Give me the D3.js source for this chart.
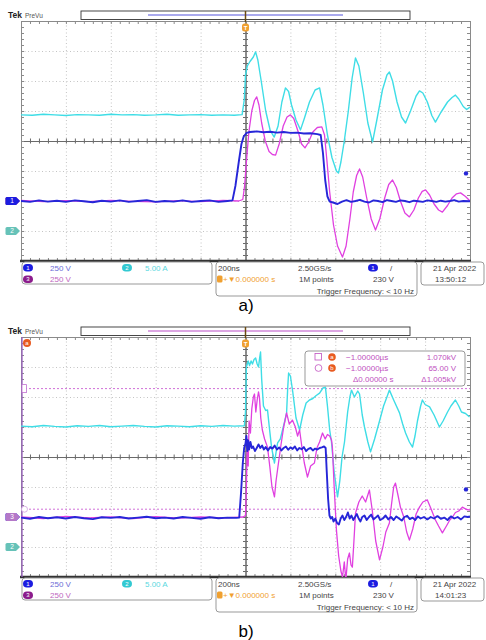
<!DOCTYPE html>
<html>
<head>
<meta charset="utf-8">
<script src="https://cdn.jsdelivr.net/npm/d3@7"></script>
<style>
  body { margin: 0; background: #fff; }
  svg { display: block; }
</style>
</head>
<body>
<div id="chart"></div>
<script>
// scope settings (200 ns/div, 10 x 8 divisions)
const timeDomain = [-1000, 1000];   // ns
const levelDomain = [-4, 4];        // divisions from screen centre
const timeTicks = d3.range(-1000, 1001, 200);
const levelTicks = d3.range(-4, 5, 1);
const timeMinor = d3.range(-1000, 1001, 40);
const levelMinor = d3.range(-4, 4.01, 0.2);

const channelNames = ["1", "2", "3"];
const channelScaleText = ["250 V", "5.00 A", "250 V"];
const groundDiv = [-2, -3, -2];      // ground markers, divisions
const voltsPerDiv = 250;
const triggerLevelV = 230;
const cursorTimeText = "\u22121.00000\u00b5s";
const cursorLevelsV = [1070, 65];    // panel b, channel 3

// waveforms: [time ns, level div]
const cyanA = [[-1000,0.87],[-950,0.86],[-900,0.89],[-850,0.87],[-800,0.85],[-750,0.88],[-700,0.87],[-650,0.86],[-600,0.89],[-550,0.87],[-500,0.88],[-450,0.86],[-400,0.87],[-350,0.89],[-300,0.86],[-250,0.87],[-200,0.88],[-150,0.86],[-100,0.87],[-50,0.86],[-15,0.88],
  [-5,1.4],[0,2.2],[8,2.5],[20,2.65],[35,2.8],[45,2.97],[55,2.7],[70,2.0],[90,1.0],[110,0.35],[128,0.13],[145,0.5],[162,1.3],[178,1.77],[192,1.65],[205,1.2],[225,0.7],[245,0.37],[262,0.75],[285,1.3],[310,1.7],[330,1.77],[345,1.2],[365,0.2],[385,-0.55],[405,-1.0],[414,-1.07],[425,-0.7],[440,0.0],[458,1.0],[475,2.1],[490,2.77],[505,2.5],[525,1.6],[545,0.6],[566,-0.03],[585,0.7],[610,1.7],[630,2.2],[641,2.3],[655,2.0],[675,1.3],[695,0.8],[713,0.6],[735,1.0],[760,1.5],[775,1.67],[790,1.6],[810,1.3],[830,0.85],[846,0.63],[870,0.95],[900,1.3],[920,1.45],[935,1.53],[950,1.4],[970,1.15],[985,1.05],[1000,1.13]];

const blueA = [[-1000,-2.0],[-960,-2.03],[-920,-1.98],[-880,-2.02],[-840,-1.99],[-800,-2.03],[-760,-1.98],[-720,-2.01],[-680,-2.04],[-640,-1.99],[-600,-2.02],[-560,-1.98],[-520,-2.03],[-480,-2.0],[-440,-1.97],[-400,-2.03],[-360,-2.0],[-320,-2.02],[-280,-1.98],[-240,-2.03],[-200,-2.0],[-160,-1.98],[-120,-2.03],[-80,-2.0],[-58,-1.98],
  [-45,-1.5],[-30,-0.7],[-18,-0.1],[-8,0.15],[5,0.27],[20,0.3],[50,0.32],[80,0.29],[110,0.31],[140,0.28],[170,0.3],[200,0.27],[230,0.28],[260,0.25],[290,0.26],[320,0.23],[335,0.2],[345,-0.4],[355,-1.3],[365,-1.85],[375,-2.02],[390,-2.05],[410,-2.1],[430,-2.02],[450,-1.97],[470,-2.03],[490,-2.0],[510,-1.96],[530,-2.02],[550,-2.05],[570,-1.98],[590,-2.0],[610,-2.04],[630,-1.97],[650,-2.0],[670,-2.03],[690,-1.98],[710,-2.0],[730,-2.04],[750,-1.99],[770,-2.01],[790,-2.03],[810,-1.98],[830,-2.0],[850,-2.03],[870,-1.99],[890,-2.02],[910,-2.0],[930,-1.97],[950,-2.02],[970,-2.0],[1000,-2.01]];

const magentaA = [[-1000,-1.98],[-900,-2.02],[-800,-1.99],[-700,-2.02],[-600,-1.98],[-500,-2.01],[-400,-2.03],[-300,-1.99],[-200,-2.02],[-100,-1.98],[-30,-2.0],[-12,-1.95],
  [-4,-1.5],[5,-0.6],[15,0.3],[28,1.0],[40,1.35],[50,1.47],[60,1.2],[72,0.6],[88,0.0],[105,-0.35],[120,-0.45],[134,-0.47],[150,-0.1],[168,0.5],[185,0.8],[200,0.87],[215,0.75],[235,0.3],[250,-0.1],[265,-0.23],[280,-0.05],[300,0.3],[320,0.45],[340,0.47],[352,0.2],[362,-0.6],[375,-1.7],[392,-2.8],[410,-3.5],[432,-3.87],[448,-3.5],[465,-2.6],[480,-1.7],[495,-1.15],[508,-0.93],[522,-1.2],[540,-1.9],[560,-2.6],[579,-2.97],[598,-2.6],[620,-1.9],[638,-1.45],[655,-1.3],[672,-1.55],[690,-2.0],[710,-2.4],[730,-2.53],[750,-2.3],[770,-1.9],[787,-1.68],[802,-1.63],[820,-1.8],[840,-2.1],[860,-2.3],[877,-2.37],[900,-2.15],[920,-1.9],[940,-1.76],[958,-1.73],[980,-1.85],[1000,-2.0]];

const cyanB = [[-1000,1.03],[-950,1.01],[-900,1.05],[-850,1.02],[-800,1.0],[-750,1.04],[-700,1.02],[-650,1.05],[-600,1.01],[-550,1.03],[-500,1.05],[-450,1.02],[-400,1.0],[-350,1.04],[-300,1.03],[-250,1.01],[-200,1.04],[-150,1.02],[-100,1.05],[-50,1.03],[-5,1.04],
  [0,1.5],[4,3.0],[12,3.2],[18,3.05],[25,3.2],[31,3.1],[38,3.25],[45,3.3],[52,3.1],[58,3.0],[63,3.3],[67,3.5],[72,2.6],[80,1.7],[90,1.55],[98,1.57],[106,1.0],[116,0.33],[129,-0.2],[137,0.2],[143,0.47],[155,0.6],[165,0.9],[175,1.2],[183,1.47],[188,2.3],[192,2.8],[200,2.7],[210,2.2],[225,1.3],[241,0.9],[255,1.4],[270,1.8],[285,1.9],[300,1.95],[315,2.05],[330,2.13],[345,2.3],[356,2.33],[365,1.7],[375,0.9],[383,0.5],[395,-0.5],[410,-1.33],[420,-0.8],[430,0.0],[441,0.5],[455,1.5],[465,2.0],[472,2.23],[485,2.0],[500,2.2],[508,2.1],[520,1.4],[530,1.0],[545,0.5],[557,0.17],[575,0.6],[597,1.2],[615,1.7],[630,2.0],[641,2.23],[660,1.9],[686,1.47],[700,1.1],[713,0.8],[730,0.5],[744,0.33],[755,0.7],[766,1.2],[780,1.7],[788,1.9],[800,1.75],[820,1.67],[840,1.4],[864,1.0],[880,1.2],[900,1.5],[915,1.7],[935,1.9],[950,1.7],[962,1.5],[980,1.45],[998,1.33]];

const blueB = [[-1000,-2.02],[-960,-2.06],[-920,-2.0],[-880,-2.04],[-840,-2.01],[-800,-2.05],[-760,-2.0],[-720,-2.04],[-680,-2.07],[-640,-2.01],[-600,-2.03],[-560,-2.0],[-520,-2.05],[-480,-2.02],[-440,-1.99],[-400,-2.04],[-360,-2.02],[-320,-2.05],[-280,-2.0],[-240,-2.03],[-200,-2.06],[-160,-2.01],[-120,-2.04],[-80,-2.02],[-40,-2.03],[-28,-2.02],
  [-20,-1.2],[-12,-0.2],[-6,0.3],[0,0.45],[4,0.7],[8,0.2],[12,0.55],[16,0.25],[22,0.5],[28,0.3],[34,0.35],[42,0.2],[50,0.3],[58,0.42],[66,0.3],[74,0.38],[82,0.25],[90,0.33],[100,0.22],[110,0.33],[120,0.28],[130,0.38],[140,0.25],[150,0.32],[160,0.22],[170,0.3],[180,0.35],[190,0.24],[200,0.32],[210,0.27],[220,0.35],[230,0.22],[240,0.3],[250,0.26],[260,0.33],[270,0.2],[280,0.27],[290,0.3],[300,0.22],[310,0.28],[320,0.25],[330,0.3],[340,0.32],[350,0.35],[357,0.3],
  [362,-0.5],[368,-1.4],[374,-1.95],[380,-2.05],[386,-2.0],[392,-2.15],[400,-2.05],[408,-2.2],[416,-2.25],[424,-2.05],[432,-1.95],[440,-2.1],[448,-2.0],[456,-1.85],[464,-2.05],[472,-1.95],[480,-2.1],[488,-2.0],[496,-1.9],[504,-2.05],[512,-2.15],[520,-2.0],[530,-1.95],[540,-2.1],[550,-2.0],[560,-1.92],[570,-2.08],[580,-2.02],[590,-1.95],[600,-2.1],[612,-2.05],[624,-1.95],[636,-2.08],[648,-2.0],[660,-2.1],[672,-1.98],[684,-2.05],[696,-2.12],[708,-2.0],[720,-1.96],[732,-2.07],[744,-2.02],[756,-2.1],[768,-1.98],[780,-2.05],[795,-2.0],[810,-2.08],[825,-2.0],[840,-2.05],[855,-1.97],[870,-2.06],[885,-2.02],[900,-2.1],[915,-1.98],[930,-2.05],[945,-2.0],[960,-2.08],[975,-1.98],[990,-2.0],[1000,-1.98]];

const magentaB = [[-1000,-2.0],[-900,-2.05],[-800,-1.98],[-700,-2.03],[-600,-2.0],[-500,-2.05],[-400,-1.99],[-300,-2.04],[-200,-2.0],[-100,-2.03],[-10,-2.0],[0,-1.95],
  [4,-1.0],[8,0.5],[12,-0.3],[16,1.2],[22,0.8],[28,1.6],[35,2.0],[40,2.1],[46,1.5],[52,1.9],[58,2.17],[62,2.0],[68,1.3],[75,0.9],[85,0.6],[98,0.33],[108,-0.3],[118,-1.0],[129,-1.33],[136,-0.8],[145,-0.3],[158,0.4],[170,1.0],[183,1.47],[195,1.1],[209,1.23],[222,1.0],[232,0.7],[241,0.9],[250,0.4],[262,-0.2],[276,-0.67],[290,-0.3],[307,-0.2],[318,0.3],[330,0.5],[343,0.8],[355,0.6],[365,0.75],[375,0.7],[383,0.57],[387,0.33],
  [395,-1.0],[405,-2.43],[415,-3.3],[425,-3.8],[432,-4.0],[440,-3.5],[447,-4.1],[455,-3.4],[463,-3.2],[470,-3.6],[476,-3.67],[483,-2.8],[490,-1.87],[505,-1.5],[520,-1.3],[535,-1.5],[552,-1.1],[565,-1.8],[580,-2.8],[597,-3.43],[612,-3.0],[625,-2.5],[641,-2.2],[650,-1.6],[660,-1.0],[668,-0.87],[680,-1.3],[690,-1.67],[705,-2.0],[718,-2.5],[730,-2.77],[745,-2.4],[760,-1.9],[775,-1.67],[790,-1.5],[810,-1.43],[825,-1.7],[846,-2.1],[860,-2.3],[877,-2.53],[895,-2.3],[910,-2.1],[922,-2.0],[935,-1.85],[950,-1.8],[966,-1.67],[985,-1.75],[1000,-1.77]];

const colors = { blue: "#2626d8", cyan: "#3fdde6", magenta: "#e040e0", orange: "#f0a030",
  badge1: "#1c1ce0", badge2: "#33c9d2", badge3: "#8c1c8c", text: "#444" };

const panels = [
  { top: 21, label: "a)", clock: "13:50:12", cyan: cyanA, magenta: magentaA, blue: blueA, rec: "#8c8ce8", cursors: false },
  { top: 337, label: "b)", clock: "14:01:23", cyan: cyanB, magenta: magentaB, blue: blueB, rec: "#d088d8", cursors: true }
];

const svg = d3.select("#chart").append("svg")
  .attr("width", 486).attr("height", 640)
  .style("font-family", "'Liberation Sans', Arial, sans-serif");

function fmtV(v) {
  return v >= 1000 ? (v / 1000).toFixed(3) + "kV" : v.toFixed(2) + " V";
}

function badge(g, cx, cy, color, label) {
  g.append("rect").attr("x", cx - 5).attr("y", cy - 3.8).attr("width", 10).attr("height", 7.6)
    .attr("rx", 3.8).attr("fill", color);
  g.append("text").attr("x", cx).attr("y", cy + 2.2).attr("text-anchor", "middle")
    .attr("font-size", 6).attr("fill", "#fff").text(label);
}

function txt(g, x, y, s, color, anchor) {
  return g.append("text").attr("x", x).attr("y", y).attr("font-size", 8)
    .attr("fill", color || colors.text).attr("text-anchor", anchor || "start").text(s);
}

function drawPanel(p, idx) {
  const top = p.top, bottom = top + 240, left = 21, right = 470;
  const x = d3.scaleLinear().domain(timeDomain).range([left, right]);
  const y = d3.scaleLinear().domain(levelDomain).range([bottom, top]);
  const g = svg.append("g");

  // header: Tek PreVu and record view
  g.append("text").attr("x", 8).attr("y", top - 3).attr("font-size", 8.5)
    .attr("font-weight", "bold").attr("fill", "#222").text("Tek");
  g.append("text").attr("x", 25).attr("y", top - 3).attr("font-size", 6.5)
    .attr("fill", "#555").text("PreVu");
  g.append("rect").attr("x", 81).attr("y", top - 10).attr("width", 329).attr("height", 8.5)
    .attr("fill", "#fff").attr("stroke", "#333").attr("stroke-width", 0.9);
  g.append("line").attr("x1", 148).attr("x2", 343).attr("y1", top - 6).attr("y2", top - 6)
    .attr("stroke", p.rec).attr("stroke-width", 1.3);

  // dotted graticule
  g.append("g").attr("transform", `translate(0,${bottom})`)
    .call(d3.axisBottom(x).tickValues(timeTicks).tickSize(-(bottom - top)).tickFormat(""))
    .call(a => a.select(".domain").remove())
    .selectAll("line").attr("stroke", "#c4c4c4").attr("stroke-dasharray", "1,2.5");
  g.append("g").attr("transform", `translate(${left},0)`)
    .call(d3.axisLeft(y).tickValues(levelTicks).tickSize(-(right - left)).tickFormat(""))
    .call(a => a.select(".domain").remove())
    .selectAll("line").attr("stroke", "#c4c4c4").attr("stroke-dasharray", "1,2.5");

  // centre cross with minor ticks on both sides
  const cross = g.append("g").attr("stroke", "#666");
  [d3.axisBottom, d3.axisTop].forEach(ax => {
    cross.append("g").attr("transform", `translate(0,${y(0)})`)
      .call(ax(x).tickValues(timeMinor).tickSize(2.5).tickSizeOuter(0).tickFormat(""));
  });
  [d3.axisLeft, d3.axisRight].forEach(ax => {
    cross.append("g").attr("transform", `translate(${x(0)},0)`)
      .call(ax(y).tickValues(levelMinor).tickSize(2.5).tickSizeOuter(0).tickFormat(""));
  });
  cross.selectAll("path, line").attr("stroke", "#6a6a6a");

  // frame with edge ticks
  const frame = g.append("g");
  frame.append("g").attr("transform", `translate(0,${top})`)
    .call(d3.axisBottom(x).tickValues(timeMinor).tickSize(3).tickSizeOuter(0).tickFormat(""));
  frame.append("g").attr("transform", `translate(${left},0)`)
    .call(d3.axisRight(y).tickValues(levelMinor).tickSize(3).tickSizeOuter(0).tickFormat(""));
  frame.append("g").attr("transform", `translate(${right},0)`)
    .call(d3.axisLeft(y).tickValues(levelMinor).tickSize(3).tickSizeOuter(0).tickFormat(""));
  frame.append("g").attr("transform", `translate(0,${bottom})`)
    .call(d3.axisTop(x).tickValues(timeMinor).tickSize(3).tickSizeOuter(0).tickFormat(""));
  frame.selectAll("path, line").attr("stroke", "#8a8a8a");
  frame.append("line").attr("x1", left - 1).attr("x2", right + 1).attr("y1", bottom).attr("y2", bottom)
    .attr("stroke", "#333").attr("stroke-width", 2.5);

  // cursors (panel b)
  if (p.cursors) {
    cursorLevelsV.forEach(v => {
      g.append("line").attr("x1", left).attr("x2", right)
        .attr("y1", y(groundDiv[2] + v / voltsPerDiv)).attr("y2", y(groundDiv[2] + v / voltsPerDiv))
        .attr("stroke", "#d070d8").attr("stroke-width", 1).attr("stroke-dasharray", "2,2");
    });
    g.append("line").attr("x1", x(-1000) + 1).attr("x2", x(-1000) + 1).attr("y1", top).attr("y2", bottom)
      .attr("stroke", "#9a60c0").attr("stroke-width", 1.3);
    g.append("rect").attr("x", left + 1).attr("y", y(groundDiv[2] + cursorLevelsV[0] / voltsPerDiv) - 4)
      .attr("width", 4.5).attr("height", 8).attr("fill", "#fff").attr("stroke", "#c070d0").attr("stroke-width", 0.8);
    g.append("circle").attr("cx", left + 3.5).attr("cy", y(groundDiv[2] + cursorLevelsV[1] / voltsPerDiv))
      .attr("r", 3).attr("fill", "#fff").attr("stroke", "#d0a0e0").attr("stroke-width", 0.8);
    g.append("circle").attr("cx", left + 6).attr("cy", top + 6).attr("r", 4).attr("fill", "#e85a20");
    g.append("text").attr("x", left + 6).attr("y", top + 8).attr("text-anchor", "middle")
      .attr("font-size", 6).attr("fill", "#fff").text("a");
  }

  // waveforms
  const clipId = "clip" + idx;
  g.append("clipPath").attr("id", clipId).append("rect")
    .attr("x", left).attr("y", top).attr("width", right - left).attr("height", bottom - top);
  const line = d3.line().x(d => x(d[0])).y(d => y(d[1]));
  const waves = g.append("g").attr("clip-path", `url(#${clipId})`).attr("fill", "none")
    .attr("stroke-linejoin", "round");
  waves.append("path").attr("d", line(p.cyan)).attr("stroke", colors.cyan).attr("stroke-width", 1.4);
  waves.append("path").attr("d", line(p.magenta)).attr("stroke", colors.magenta).attr("stroke-width", 1.3);
  waves.append("path").attr("d", line(p.blue)).attr("stroke", colors.blue).attr("stroke-width", 1.9);

  // cursor readout box
  if (p.cursors) {
    const rb = g.append("g");
    rb.append("rect").attr("x", 305).attr("y", top + 14).attr("width", 160).attr("height", 35)
      .attr("rx", 3).attr("fill", "#fff").attr("stroke", "#999").attr("stroke-width", 1);
    const c = "#c050c0";
    const r1 = top + 23, r2 = top + 34, r3 = top + 45;
    rb.append("rect").attr("x", 315).attr("y", r1 - 6.5).attr("width", 6.5).attr("height", 6.5)
      .attr("fill", "none").attr("stroke", c).attr("stroke-width", 0.8);
    rb.append("circle").attr("cx", 318.5).attr("cy", r2 - 3).attr("r", 3.4)
      .attr("fill", "none").attr("stroke", c).attr("stroke-width", 0.8);
    ["a", "b"].forEach((s, i) => {
      const yy = i === 0 ? r1 : r2;
      rb.append("circle").attr("cx", 332).attr("cy", yy - 3).attr("r", 3.8).attr("fill", "#e85a20");
      rb.append("text").attr("x", 332).attr("y", yy - 1).attr("text-anchor", "middle")
        .attr("font-size", 6).attr("fill", "#fff").text(s);
    });
    txt(rb, 346, r1, cursorTimeText, c);
    txt(rb, 346, r2, cursorTimeText, c);
    txt(rb, 456, r1, fmtV(cursorLevelsV[0]), c, "end");
    txt(rb, 456, r2, fmtV(cursorLevelsV[1]), c, "end");
    txt(rb, 353, r3, "\u03940.00000 s", c);
    txt(rb, 456, r3, "\u0394" + fmtV(cursorLevelsV[0] - cursorLevelsV[1]), c, "end");
  }

  // trigger marker at time 0
  g.append("line").attr("x1", x(0)).attr("x2", x(0)).attr("y1", top - 10).attr("y2", top + 1)
    .attr("stroke", "#6b4a10").attr("stroke-width", 1.5);
  g.append("rect").attr("x", x(0) - 3.5).attr("y", top + 2.5).attr("width", 7).attr("height", 8)
    .attr("rx", 2.5).attr("fill", colors.orange);
  g.append("text").attr("x", x(0)).attr("y", top + 9).attr("text-anchor", "middle")
    .attr("font-size", 6).attr("font-weight", "bold").attr("fill", "#fff").text("T");

  // trigger level indicator
  g.append("circle").attr("cx", right - 4).attr("cy", y(groundDiv[0] + triggerLevelV / voltsPerDiv))
    .attr("r", 2.2).attr("fill", colors.blue);

  // ground markers on the left
  const marker = (lvl, color, label) => {
    const cy = y(lvl);
    g.append("path")
      .attr("d", `M7,${cy - 4} h9 l4,4 l-4,4 h-9 q-1.5,0 -1.5,-1.5 v-5 q0,-1.5 1.5,-1.5 z`)
      .attr("fill", color);
    g.append("text").attr("x", 12).attr("y", cy + 2.3).attr("text-anchor", "middle")
      .attr("font-size", 6.5).attr("fill", "#fff").text(label);
  };
  marker(groundDiv[1], "#66c2b8", channelNames[1]);
  if (p.cursors) {
    marker(groundDiv[0], colors.badge1, channelNames[0]);
    marker(groundDiv[2], "#b478c8", channelNames[2]);
  } else {
    marker(groundDiv[2], colors.badge3, channelNames[2]);
    marker(groundDiv[0], colors.badge1, channelNames[0]);
  }

  // bottom readout boxes
  const b = bottom + 1;
  const info = g.append("g");
  const box = (x0, w, h) => info.append("rect").attr("x", x0).attr("y", b).attr("width", w).attr("height", h)
    .attr("rx", 3).attr("fill", "#fff").attr("stroke", "#999").attr("stroke-width", 1);
  box(22, 190, 22);
  box(216, 201, 34);
  box(421, 63, 23);
  const row1 = b + 8.5, row2 = b + 20, row3 = b + 31.5;
  badge(info, 28, row1 - 2.8, colors.badge1, channelNames[0]);
  txt(info, 50, row1, channelScaleText[0], "#6c6cd6");
  badge(info, 28, row2 - 2.8, colors.badge3, channelNames[2]);
  txt(info, 50, row2, channelScaleText[2], "#c068c0");
  badge(info, 127, row1 - 2.8, colors.badge2, channelNames[1]);
  txt(info, 145, row1, channelScaleText[1], "#5ad8e0");

  txt(info, 218, row1, "200ns");
  txt(info, 298, row1, "2.50GS/s");
  badge(info, 373, row1 - 2.8, colors.badge1, channelNames[0]);
  txt(info, 390, row1, "/");
  info.append("rect").attr("x", 217).attr("y", row2 - 6.5).attr("width", 5.5).attr("height", 7)
    .attr("rx", 1.5).attr("fill", colors.orange);
  txt(info, 223, row2, "+\u25bc0.000000 s", colors.orange);
  txt(info, 299, row2, "1M points");
  txt(info, 373, row2, triggerLevelV + " V");
  txt(info, 414, row3, "Trigger Frequency: < 10 Hz", null, "end");

  txt(info, 433, row1, "21 Apr  2022");
  txt(info, 435, row2, p.clock);

  // panel label
  svg.append("text").attr("x", 246).attr("y", bottom + (idx === 0 ? 50 : 60))
    .attr("text-anchor", "middle").attr("font-size", 17).attr("fill", "#000").text(p.label);
}

panels.forEach(drawPanel);
</script>
</body>
</html>
